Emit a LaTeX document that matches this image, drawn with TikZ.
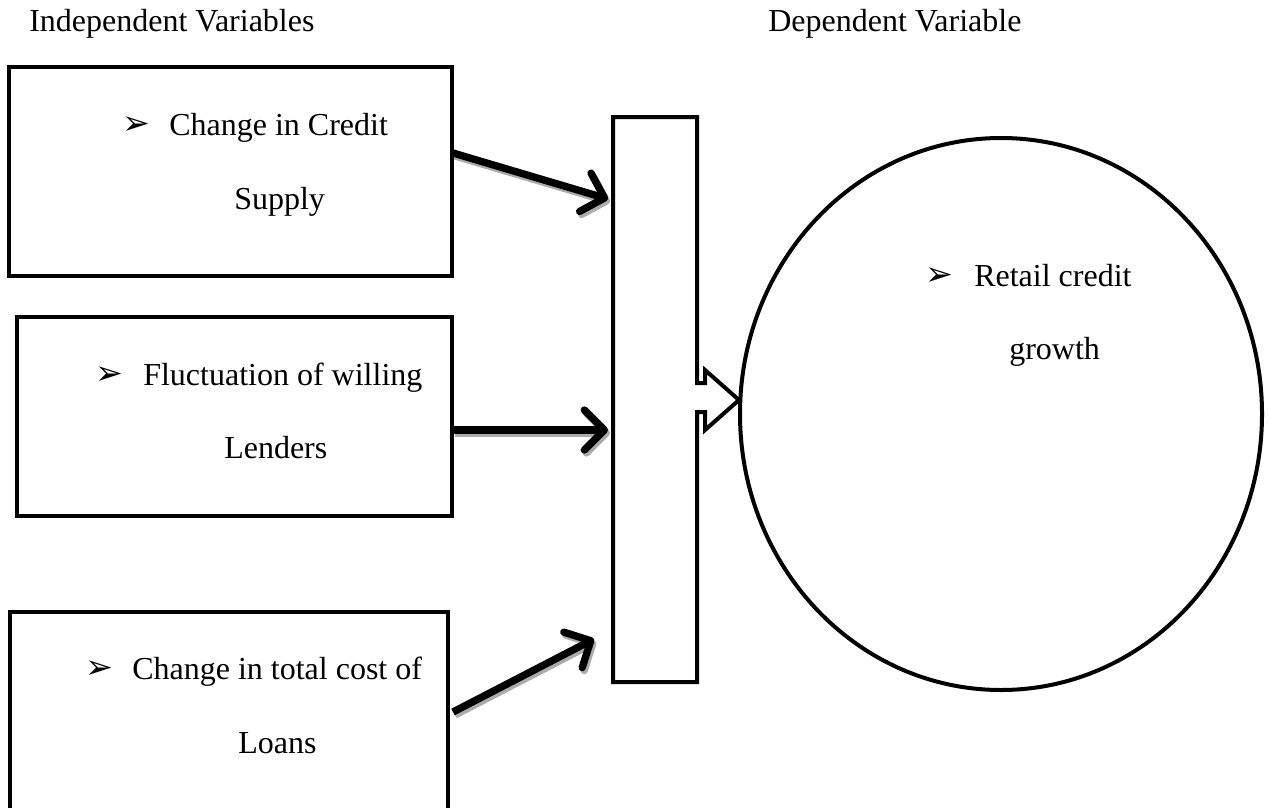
\documentclass[tikz,border=0pt]{standalone}
\usepackage{fontspec}
\setmainfont{Liberation Serif}
\newfontfamily\dejavu{DejaVu Sans}
\usetikzlibrary{arrows.meta}
\newcommand{\bul}{{\dejavu\fontsize{25pt}{28pt}\selectfont ➢}}
\tikzset{
  box/.style={draw, line width=3pt, inner sep=0pt},
  txt/.style={anchor=mid west, inner sep=0pt, font=\fontsize{24pt}{28pt}\selectfont},
  conn/.style={line width=5.5pt, -{Straight Barb[length=15pt, width=30pt, line cap=round, line join=round]}},
  shade/.style={conn, draw=gray!65},
}
\begin{document}
\begin{tikzpicture}[x=0.75pt, y=-0.75pt]
\useasboundingbox (0,0) rectangle (1270,807);
% boxes
\draw[box] (9,67) rectangle (452,276);
\draw[box] (17,317) rectangle (452,516);
\draw[box] (10,612) rectangle (448,815);
\coordinate (a1) at (453,153);
\coordinate (a2) at (453,430);
\coordinate (a3) at (453,712);
\coordinate (t1) at (608,199);
\coordinate (t2) at (608,430);
\coordinate (t3) at (594,639);
% collector with block arrow
\draw[box, line join=miter] (613,117) -- (697,117) -- (697,383) -- (705,383) -- (705,370) -- (739,400) -- (705,430) -- (705,412) -- (697,412) -- (697,682) -- (613,682) -- cycle;
% ellipse
\draw[box] (1001,414) ellipse [x radius=261, y radius=276];
% arrows with shadow
\foreach \s/\t in {a1/t1, a2/t2, a3/t3}{
  \draw[shade] ([shift={(2,3)}]\s) -- ([shift={(2,3)}]\t);
  \draw[conn] (\s) -- (\t);
}
% texts
\node[txt] (h1) at (29,28) {Independent Variables};
\node[txt] (h2) at (768,28) {Dependent Variable};
\node[txt] (p1) at (122,131) {\bul};
\node[txt] (l1) at (169,132) {Change in Credit};
\node[txt] (l1b) at (234,206) {Supply};
\node[txt] (p2) at (95,381) {\bul};
\node[txt] (l2) at (143,382) {Fluctuation of willing};
\node[txt] (l2b) at (224,455) {Lenders};
\node[txt] (p3) at (85,675) {\bul};
\node[txt] (l3) at (132,676) {Change in total cost of};
\node[txt] (l3b) at (238,750) {Loans};
\node[txt] (p4) at (925,282) {\bul};
\node[txt] (l4) at (974,283) {Retail credit};
\node[txt] (l4b) at (1009,356) {growth};
\end{tikzpicture}
\end{document}
